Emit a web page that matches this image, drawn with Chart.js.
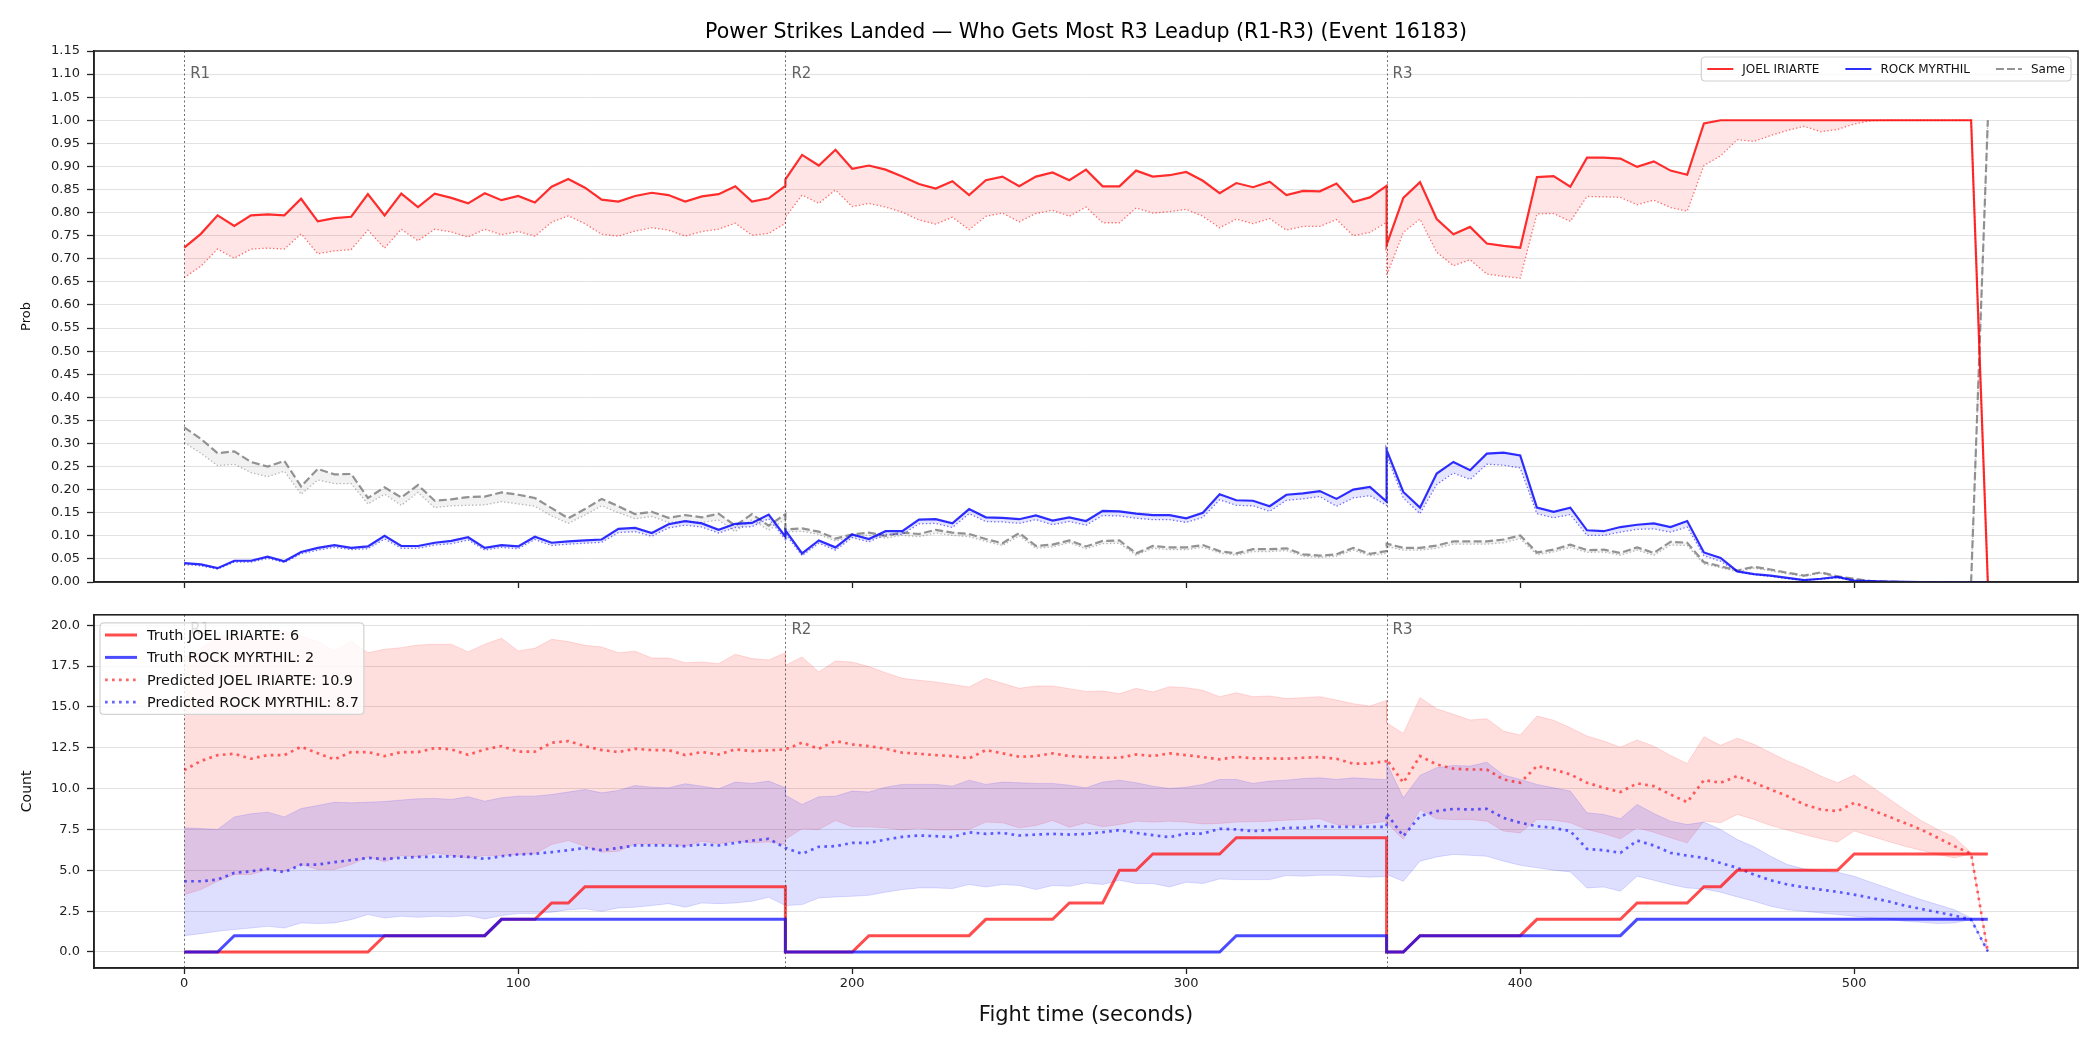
<!DOCTYPE html>
<html lang="en">
<head>
    <meta charset="UTF-8">
    <title>Power Strikes Landed - Event 16183</title>
    <script src="https://cdn.jsdelivr.net/npm/chart.js"></script>
    <style>
        html, body { margin: 0; padding: 0; background: #fff; }
        body { width: 2100px; height: 1050px; position: relative; overflow: hidden; }
        .panel { position: absolute; left: 0; width: 2100px; }
        #topPanel { top: 0; height: 600px; }
        #bottomPanel { top: 600px; height: 450px; }
    </style>
</head>
<body>
    <div class="panel" id="topPanel"><canvas id="probChart" width="2100" height="600" style="width:2100px;height:600px"></canvas></div>
    <div class="panel" id="bottomPanel"><canvas id="countChart" width="2100" height="450" style="width:2100px;height:450px"></canvas></div>

    <script>
        // ---- data ----
        const fighterA = 'JOEL IRIARTE';
        const fighterB = 'ROCK MYRTHIL';
        const chartTitle = 'Power Strikes Landed \u2014 Who Gets Most R3 Leadup (R1-R3) (Event 16183)';

        // sample times (s); each round boundary appears twice (end of one round, start of next)
        const times = [
            0, 5, 10, 15, 20, 25, 30, 35, 40, 45, 50, 55, 60, 65, 70, 75, 80, 85, 90, 95,
            100, 105, 110, 115, 120, 125, 130, 135, 140, 145, 150, 155, 160, 165, 170, 175, 180,
            180, 185, 190, 195, 200, 205, 210, 215, 220, 225, 230, 235, 240, 245, 250, 255, 260, 265, 270, 275,
            280, 285, 290, 295, 300, 305, 310, 315, 320, 325, 330, 335, 340, 345, 350, 355, 360,
            360, 365, 370, 375, 380, 385, 390, 395, 400, 405, 410, 415, 420, 425, 430, 435, 440, 445, 450, 455,
            460, 465, 470, 475, 480, 485, 490, 495, 500, 505, 510, 515, 520, 525, 530, 535, 540
        ];
        const xTicks = [0, 100, 200, 300, 400, 500];
        const probTicks = [0, 0.05, 0.1, 0.15, 0.2, 0.25, 0.3, 0.35, 0.4, 0.45, 0.5, 0.55, 0.6, 0.65,
            0.7, 0.75, 0.8, 0.85, 0.9, 0.95, 1, 1.05, 1.1, 1.15];
        const countTicks = [0, 2.5, 5, 7.5, 10, 12.5, 15, 17.5, 20];
        const roundStarts = [0, 180, 360];
        const roundNames = ['R1', 'R2', 'R3'];

        // top panel: probability (solid = upper, dotted = lower)
        const joelProbHi = [
            0.724, 0.754, 0.794, 0.771, 0.794, 0.796, 0.794, 0.830, 0.781, 0.788,
            0.791, 0.840, 0.794, 0.841, 0.812, 0.841, 0.832, 0.820, 0.842, 0.827,
            0.836, 0.822, 0.856, 0.873, 0.854, 0.828, 0.824, 0.836, 0.843, 0.838,
            0.824, 0.835, 0.840, 0.857, 0.824, 0.831, 0.858,
            0.872, 0.925, 0.902, 0.936, 0.895, 0.902, 0.893, 0.878, 0.862, 0.852,
            0.868, 0.838, 0.870, 0.878, 0.857, 0.878, 0.887, 0.870, 0.893, 0.857,
            0.857, 0.891, 0.878, 0.881, 0.888, 0.869, 0.842, 0.864, 0.855, 0.867,
            0.838, 0.847, 0.846, 0.863, 0.823, 0.833, 0.858,
            0.730, 0.832, 0.866, 0.786, 0.753, 0.769, 0.733, 0.728, 0.724, 0.877,
            0.879, 0.856, 0.919, 0.919, 0.917, 0.899, 0.911, 0.891, 0.882, 0.993,
            1, 1, 1, 1, 1, 1, 1, 1, 1, 1,
            1, 1, 1, 1, 1, 1, 0
        ];
        const joelProbLo = [
            0.659, 0.684, 0.721, 0.701, 0.721, 0.723, 0.721, 0.754, 0.711, 0.717,
            0.720, 0.762, 0.723, 0.764, 0.739, 0.764, 0.758, 0.747, 0.764, 0.752,
            0.759, 0.749, 0.779, 0.793, 0.776, 0.753, 0.749, 0.760, 0.767, 0.762,
            0.749, 0.759, 0.764, 0.777, 0.751, 0.755, 0.777,
            0.790, 0.838, 0.820, 0.849, 0.813, 0.820, 0.812, 0.801, 0.784, 0.775,
            0.790, 0.763, 0.792, 0.799, 0.780, 0.798, 0.805, 0.792, 0.812, 0.778,
            0.778, 0.810, 0.799, 0.802, 0.807, 0.792, 0.767, 0.786, 0.776, 0.787,
            0.762, 0.770, 0.770, 0.785, 0.750, 0.757, 0.779,
            0.663, 0.757, 0.786, 0.714, 0.685, 0.698, 0.667, 0.662, 0.658, 0.797,
            0.798, 0.781, 0.835, 0.834, 0.833, 0.817, 0.827, 0.811, 0.803, 0.902,
            0.923, 0.958, 0.954, 0.967, 0.978, 0.987, 0.975, 0.980, 0.992, 0.999,
            1, 1, 1, 1, 1, 1, 0
        ];
        const rockProbHi = [
            0.041, 0.038, 0.030, 0.046, 0.046, 0.055, 0.045, 0.065, 0.074, 0.080,
            0.074, 0.077, 0.100, 0.078, 0.078, 0.085, 0.089, 0.097, 0.074, 0.080,
            0.077, 0.098, 0.085, 0.088, 0.090, 0.092, 0.115, 0.117, 0.106, 0.125,
            0.132, 0.127, 0.113, 0.126, 0.128, 0.146, 0.098,
            0.112, 0.062, 0.090, 0.075, 0.103, 0.093, 0.110, 0.110, 0.135, 0.136,
            0.127, 0.158, 0.140, 0.139, 0.136, 0.144, 0.133, 0.140, 0.132, 0.154,
            0.153, 0.148, 0.145, 0.145, 0.138, 0.150, 0.190, 0.177, 0.176, 0.164,
            0.189, 0.192, 0.197, 0.180, 0.200, 0.206, 0.174,
            0.286, 0.195, 0.161, 0.235, 0.260, 0.242, 0.278, 0.280, 0.274, 0.161,
            0.152, 0.161, 0.112, 0.110, 0.119, 0.124, 0.127, 0.119, 0.132, 0.064,
            0.052, 0.023, 0.017, 0.014, 0.009, 0.004, 0.007, 0.011, 0.003, 0.002,
            0.001, 0.0005, 0, 0, 0, 0, 0
        ];
        const rockProbLo = [
            0.038, 0.035, 0.028, 0.043, 0.043, 0.051, 0.042, 0.061, 0.069, 0.075,
            0.070, 0.072, 0.093, 0.073, 0.073, 0.080, 0.083, 0.091, 0.069, 0.075,
            0.072, 0.092, 0.079, 0.082, 0.084, 0.086, 0.107, 0.109, 0.099, 0.117,
            0.123, 0.119, 0.106, 0.118, 0.120, 0.137, 0.092,
            0.104, 0.057, 0.084, 0.069, 0.096, 0.087, 0.103, 0.103, 0.126, 0.127,
            0.118, 0.148, 0.131, 0.130, 0.127, 0.135, 0.124, 0.131, 0.123, 0.144,
            0.143, 0.138, 0.135, 0.135, 0.129, 0.140, 0.178, 0.166, 0.165, 0.153,
            0.177, 0.180, 0.185, 0.164, 0.182, 0.187, 0.166,
            0.273, 0.182, 0.148, 0.211, 0.236, 0.222, 0.255, 0.253, 0.247, 0.148,
            0.139, 0.146, 0.101, 0.101, 0.108, 0.114, 0.115, 0.108, 0.119, 0.057,
            0.045, 0.022, 0.016, 0.012, 0.007, 0.004, 0.006, 0.009, 0.002, 0.001,
            0.0005, 0, 0, 0, 0, 0, 0
        ];
        const sameProbHi = [
            0.335, 0.310, 0.279, 0.283, 0.260, 0.250, 0.262, 0.207, 0.245, 0.233,
            0.234, 0.182, 0.205, 0.183, 0.210, 0.176, 0.179, 0.184, 0.185, 0.194,
            0.189, 0.182, 0.160, 0.138, 0.158, 0.180, 0.164, 0.147, 0.152, 0.139,
            0.145, 0.140, 0.148, 0.122, 0.147, 0.122, 0.147,
            0.114, 0.116, 0.109, 0.094, 0.103, 0.107, 0.100, 0.107, 0.104, 0.113,
            0.107, 0.104, 0.093, 0.084, 0.106, 0.078, 0.081, 0.090, 0.077, 0.089,
            0.090, 0.062, 0.078, 0.075, 0.075, 0.080, 0.067, 0.062, 0.071, 0.071,
            0.073, 0.060, 0.057, 0.060, 0.074, 0.061, 0.067,
            0.083, 0.074, 0.074, 0.079, 0.088, 0.088, 0.088, 0.092, 0.101, 0.064,
            0.070, 0.081, 0.069, 0.070, 0.063, 0.075, 0.063, 0.087, 0.085, 0.043,
            0.034, 0.025, 0.033, 0.027, 0.020, 0.014, 0.021, 0.012, 0.007, 0.002,
            0.001, 0, 0, 0, 0, 0, 1
        ];
        const sameProbLo = [
            0.302, 0.279, 0.252, 0.255, 0.237, 0.228, 0.240, 0.190, 0.221, 0.213,
            0.213, 0.169, 0.190, 0.166, 0.194, 0.161, 0.165, 0.166, 0.167, 0.174,
            0.169, 0.164, 0.143, 0.127, 0.145, 0.165, 0.150, 0.137, 0.142, 0.129,
            0.132, 0.129, 0.134, 0.109, 0.135, 0.112, 0.136,
            0.108, 0.110, 0.103, 0.089, 0.097, 0.101, 0.095, 0.101, 0.098, 0.106,
            0.101, 0.098, 0.088, 0.079, 0.100, 0.073, 0.076, 0.085, 0.072, 0.083,
            0.084, 0.058, 0.073, 0.070, 0.070, 0.075, 0.063, 0.058, 0.066, 0.066,
            0.068, 0.056, 0.053, 0.056, 0.069, 0.057, 0.062,
            0.077, 0.069, 0.069, 0.073, 0.082, 0.082, 0.082, 0.085, 0.094, 0.059,
            0.065, 0.075, 0.064, 0.065, 0.058, 0.069, 0.058, 0.080, 0.079, 0.039,
            0.031, 0.022, 0.030, 0.024, 0.018, 0.012, 0.019, 0.010, 0.006, 0.002,
            0.001, 0, 0, 0, 0, 0, 1
        ];

        // bottom panel: cumulative counts
        const joelTruth = [
            0, 0, 0, 0, 0, 0, 0, 0, 0, 0,
            0, 0, 1, 1, 1, 1, 1, 1, 1, 2,
            2, 2, 3, 3, 4, 4, 4, 4, 4, 4,
            4, 4, 4, 4, 4, 4, 4,
            0, 0, 0, 0, 0, 1, 1, 1, 1, 1,
            1, 1, 2, 2, 2, 2, 2, 3, 3, 3,
            5, 5, 6, 6, 6, 6, 6, 7, 7, 7,
            7, 7, 7, 7, 7, 7, 7,
            0, 0, 1, 1, 1, 1, 1, 1, 1, 2,
            2, 2, 2, 2, 2, 3, 3, 3, 3, 4,
            4, 5, 5, 5, 5, 5, 5, 5, 6, 6,
            6, 6, 6, 6, 6, 6, 6
        ];
        const rockTruth = [
            0, 0, 0, 1, 1, 1, 1, 1, 1, 1,
            1, 1, 1, 1, 1, 1, 1, 1, 1, 2,
            2, 2, 2, 2, 2, 2, 2, 2, 2, 2,
            2, 2, 2, 2, 2, 2, 2,
            0, 0, 0, 0, 0, 0, 0, 0, 0, 0,
            0, 0, 0, 0, 0, 0, 0, 0, 0, 0,
            0, 0, 0, 0, 0, 0, 0, 1, 1, 1,
            1, 1, 1, 1, 1, 1, 1,
            0, 0, 1, 1, 1, 1, 1, 1, 1, 1,
            1, 1, 1, 1, 1, 2, 2, 2, 2, 2,
            2, 2, 2, 2, 2, 2, 2, 2, 2, 2,
            2, 2, 2, 2, 2, 2, 2
        ];
        const joelPred = [
            11.13, 11.69, 12.05, 12.13, 11.83, 12.05, 12.05, 12.56, 12.16, 11.79,
            12.24, 12.24, 11.99, 12.24, 12.24, 12.48, 12.40, 12.07, 12.40, 12.60,
            12.26, 12.26, 12.81, 12.91, 12.60, 12.36, 12.24, 12.44, 12.36, 12.36,
            12.05, 12.24, 12.09, 12.40, 12.30, 12.34, 12.40,
            12.40, 12.81, 12.44, 12.91, 12.71, 12.60, 12.44, 12.20, 12.13, 12.05,
            11.99, 11.85, 12.36, 12.16, 11.95, 11.99, 12.16, 11.99, 11.93, 11.89,
            11.89, 12.09, 11.99, 12.16, 12.05, 11.93, 11.79, 11.95, 11.85, 11.85,
            11.83, 11.89, 11.93, 11.83, 11.52, 11.54, 11.69,
            11.79, 10.36, 11.99, 11.48, 11.22, 11.17, 11.17, 10.56, 10.36, 11.38,
            11.17, 10.87, 10.36, 10.05, 9.79, 10.32, 10.15, 9.64, 9.17, 10.52,
            10.36, 10.77, 10.36, 9.95, 9.54, 9.03, 8.72, 8.62, 9.13, 8.72,
            8.31, 7.91, 7.50, 6.99, 6.48, 6.01, 0.04
        ];
        const joelBandHi = [
            18.00, 18.60, 19.20, 19.50, 19.10, 19.40, 19.66, 19.35, 19.00, 18.43,
            19.04, 18.32, 18.53, 18.63, 18.79, 18.84, 18.84, 18.37, 18.84, 19.20,
            18.43, 18.59, 19.14, 19.00, 18.77, 18.67, 18.32, 18.41, 18.00, 18.00,
            17.71, 17.75, 17.65, 18.22, 17.96, 17.88, 18.32,
            17.55, 18.06, 17.14, 17.81, 17.75, 17.47, 17.10, 16.75, 16.63, 16.53,
            16.38, 16.22, 16.75, 16.45, 16.14, 16.28, 16.28, 16.12, 15.95, 15.98,
            15.81, 16.14, 15.91, 16.24, 16.18, 16.02, 15.63, 15.87, 15.63, 15.67,
            15.51, 15.57, 15.63, 15.42, 15.20, 15.06, 15.40,
            14.03, 13.38, 15.57, 14.89, 14.55, 14.20, 14.28, 13.52, 13.28, 14.44,
            14.18, 13.73, 13.22, 12.91, 12.54, 12.97, 12.60, 12.03, 11.54, 13.18,
            12.65, 13.09, 12.71, 12.20, 11.69, 11.28, 10.77, 10.36, 10.83, 10.15,
            9.44, 8.72, 8.05, 7.50, 7.03, 6.07, 0
        ];
        const joelBandLo = [
            3.51, 3.82, 4.33, 4.74, 4.74, 5.05, 4.94, 5.35, 5.05, 5.05,
            5.35, 5.82, 5.52, 5.90, 5.82, 6.07, 5.90, 5.76, 5.90, 5.90,
            5.97, 6.01, 6.58, 6.82, 6.48, 6.11, 6.17, 6.62, 6.62, 6.62,
            6.48, 6.78, 6.62, 6.78, 6.68, 6.74, 6.58,
            6.90, 7.54, 7.50, 8.05, 7.66, 7.66, 7.60, 7.46, 7.58, 7.46,
            7.46, 7.50, 7.95, 7.91, 7.60, 7.74, 8.05, 7.64, 7.91, 7.66,
            7.80, 8.01, 7.95, 8.01, 7.95, 7.84, 7.87, 7.95, 7.97, 8.01,
            8.07, 8.11, 8.15, 7.80, 7.74, 7.87, 8.01,
            7.90, 6.90, 8.72, 8.15, 8.11, 8.11, 8.01, 7.40, 7.29, 8.11,
            8.07, 7.91, 7.50, 7.25, 6.93, 7.60, 7.33, 6.99, 6.68, 8.01,
            7.91, 8.42, 8.11, 7.74, 7.46, 7.19, 6.93, 6.72, 7.40, 7.09,
            6.78, 6.48, 6.23, 5.97, 5.76, 6.01, 0
        ];
        const rockPred = [
            4.33, 4.33, 4.43, 4.84, 4.94, 5.09, 4.88, 5.35, 5.35, 5.50,
            5.62, 5.76, 5.70, 5.76, 5.82, 5.82, 5.86, 5.82, 5.70, 5.86,
            5.97, 6.01, 6.11, 6.23, 6.37, 6.23, 6.37, 6.52, 6.52, 6.52,
            6.48, 6.58, 6.52, 6.68, 6.82, 6.93, 6.37,
            6.37, 6.01, 6.44, 6.48, 6.68, 6.68, 6.88, 7.05, 7.13, 7.09,
            7.03, 7.33, 7.23, 7.29, 7.13, 7.19, 7.23, 7.19, 7.23, 7.33,
            7.46, 7.29, 7.15, 7.03, 7.25, 7.25, 7.54, 7.50, 7.40, 7.46,
            7.60, 7.60, 7.70, 7.66, 7.66, 7.66, 7.66,
            8.48, 7.09, 8.31, 8.62, 8.76, 8.72, 8.76, 8.21, 7.91, 7.70,
            7.60, 7.40, 6.31, 6.23, 6.07, 6.82, 6.52, 6.07, 5.90, 5.76,
            5.45, 5.15, 4.74, 4.39, 4.13, 3.96, 3.82, 3.68, 3.51, 3.31,
            3.11, 2.84, 2.64, 2.43, 2.23, 1.98, 0.04
        ];
        const rockBandHi = [
            7.60, 7.56, 7.50, 8.27, 8.46, 8.56, 8.27, 8.78, 8.97, 9.17,
            9.13, 9.17, 9.21, 9.30, 9.38, 9.40, 9.34, 9.50, 9.23, 9.44,
            9.54, 9.54, 9.64, 9.79, 9.95, 9.74, 9.89, 10.19, 10.09, 10.05,
            10.30, 10.15, 9.99, 10.40, 10.32, 10.46, 10.05,
            9.60, 9.03, 9.50, 9.54, 9.85, 9.79, 10.09, 10.26, 10.26, 10.26,
            10.15, 10.52, 10.26, 10.40, 10.36, 10.32, 10.32, 10.21, 10.05, 10.40,
            10.52, 10.36, 10.15, 10.01, 10.09, 10.26, 10.56, 10.56, 10.32, 10.46,
            10.52, 10.62, 10.66, 10.56, 10.66, 10.60, 10.55,
            11.58, 9.44, 10.81, 11.28, 11.42, 11.38, 11.62, 10.83, 10.56, 10.26,
            10.05, 9.85, 8.52, 8.42, 8.15, 9.03, 8.48, 8.01, 7.80, 7.95,
            7.50, 6.88, 6.44, 5.86, 5.35, 5.09, 4.94, 4.88, 4.64, 4.27,
            3.92, 3.55, 3.21, 2.90, 2.59, 2.08, 0
        ];
        const rockBandLo = [
            1.00, 1.12, 1.27, 1.37, 1.47, 1.57, 1.47, 1.78, 1.74, 1.78,
            1.98, 2.29, 2.08, 2.19, 2.12, 2.19, 2.15, 2.23, 2.02, 2.23,
            2.35, 2.35, 2.43, 2.59, 2.64, 2.49, 2.70, 2.74, 2.84, 2.96,
            2.74, 3.00, 2.96, 3.00, 3.11, 3.35, 2.84,
            2.84, 2.90, 3.31, 3.37, 3.41, 3.47, 3.66, 3.82, 3.92, 3.92,
            3.88, 4.13, 3.98, 4.13, 4.07, 3.82, 4.07, 4.02, 4.23, 4.13,
            4.39, 4.19, 4.19, 3.98, 4.27, 4.19, 4.47, 4.43, 4.43, 4.43,
            4.68, 4.64, 4.70, 4.70, 4.64, 4.58, 4.62,
            4.74, 4.33, 5.56, 5.82, 5.97, 5.92, 5.86, 5.56, 5.31, 5.15,
            5.01, 4.90, 3.92, 3.98, 3.72, 4.64, 4.39, 4.13, 3.92, 3.86,
            3.66, 3.37, 3.11, 2.80, 2.59, 2.49, 2.39, 2.29, 2.19, 2.08,
            2.02, 1.88, 1.82, 1.74, 1.78, 1.98, 0
        ];
        const joelFinal = 6, rockFinal = 2, joelPredFinal = 10.9, rockPredFinal = 8.7;

        // ---- styling ----
        const FONT = '"DejaVu Sans", sans-serif';
        Chart.defaults.font.family = FONT;
        Chart.defaults.color = '#222';

        const RED = 'rgba(255,0,0,0.82)', BLUE = 'rgba(0,0,255,0.82)', GRAY = 'rgba(128,128,128,0.85)';
        const RED_T = 'rgba(255,0,0,0.7)', BLUE_T = 'rgba(0,0,255,0.7)';
        const RED_P = 'rgba(255,0,0,0.6)', BLUE_P = 'rgba(0,0,255,0.6)';
        const X_MIN = -27, X_MAX = 567;

        const pts = vals => times.map((t, i) => ({ x: t, y: vals[i] }));

        function series(vals, color, width, dash, fill, bg) {
            return {
                data: pts(vals),
                borderColor: color,
                borderWidth: width,
                borderDash: dash || [],
                fill: fill || false,
                backgroundColor: bg || 'transparent',
                pointRadius: 0,
                tension: 0
            };
        }

        function roundBox(ctx, x, y, w, h, r) {
            ctx.beginPath();
            ctx.moveTo(x + r, y);
            ctx.lineTo(x + w - r, y);
            ctx.quadraticCurveTo(x + w, y, x + w, y + r);
            ctx.lineTo(x + w, y + h - r);
            ctx.quadraticCurveTo(x + w, y + h, x + w - r, y + h);
            ctx.lineTo(x + r, y + h);
            ctx.quadraticCurveTo(x, y + h, x, y + h - r);
            ctx.lineTo(x, y + r);
            ctx.quadraticCurveTo(x, y, x + r, y);
            ctx.closePath();
        }

        function drawLegend(ctx, a, lg) {
            ctx.save();
            ctx.font = lg.size + 'px ' + FONT;
            const tw = lg.items.map(it => ctx.measureText(it.label).width);
            let w, h;
            if (lg.row) {
                w = 2 * lg.padX + tw.reduce((s, v) => s + lg.handle + lg.gap + v, 0) + lg.colGap * (tw.length - 1);
                h = 2 * lg.padY + lg.rowH;
            } else {
                w = 2 * lg.padX + lg.handle + lg.gap + Math.max(...tw);
                h = 2 * lg.padY + lg.rowH * tw.length;
            }
            const x0 = lg.right ? a.right - lg.dx - w : a.left + lg.dx;
            const y0 = a.top + lg.dy;
            roundBox(ctx, x0, y0, w, h, 4);
            ctx.fillStyle = 'rgba(255,255,255,0.8)';
            ctx.fill();
            ctx.strokeStyle = '#d2d2d2';
            ctx.lineWidth = 1.2;
            ctx.stroke();
            let cx = x0 + lg.padX;
            lg.items.forEach((it, i) => {
                const cy = lg.row ? y0 + h / 2 : y0 + lg.padY + lg.rowH * (i + 0.5);
                const hx = lg.row ? cx : x0 + lg.padX;
                ctx.beginPath();
                ctx.setLineDash(it.dash || []);
                ctx.strokeStyle = it.color;
                ctx.lineWidth = it.width;
                ctx.moveTo(hx, cy);
                ctx.lineTo(hx + lg.handle, cy);
                ctx.stroke();
                ctx.setLineDash([]);
                ctx.fillStyle = '#111';
                ctx.textBaseline = 'middle';
                ctx.textAlign = 'left';
                ctx.fillText(it.label, hx + lg.handle + lg.gap, cy + 1);
                if (lg.row) cx += lg.handle + lg.gap + tw[i] + lg.colGap;
            });
            ctx.restore();
        }

        // round markers, frame, title and legend
        const decor = {
            id: 'decor',
            afterDatasetsDraw(chart, args, o) {
                const { ctx, chartArea: a } = chart;
                const xs = chart.scales.x, ys = chart.scales.y;
                ctx.save();
                ctx.strokeStyle = 'rgba(60,60,60,0.75)';
                ctx.lineWidth = 1;
                ctx.setLineDash([2, 2.5]);
                roundStarts.forEach(t => {
                    const px = Math.round(xs.getPixelForValue(t)) + 0.5;
                    ctx.beginPath();
                    ctx.moveTo(px, a.top);
                    ctx.lineTo(px, a.bottom);
                    ctx.stroke();
                });
                ctx.setLineDash([]);
                ctx.fillStyle = 'rgba(70,70,70,0.85)';
                ctx.font = '15px ' + FONT;
                ctx.textBaseline = 'middle';
                ctx.textAlign = 'left';
                const ly = ys.getPixelForValue(o.roundLabelY);
                roundStarts.forEach((t, i) => {
                    ctx.fillText(roundNames[i], xs.getPixelForValue(t) + 6, ly);
                });
                ctx.strokeStyle = '#222';
                ctx.lineWidth = 1.6;
                ctx.strokeRect(a.left, a.top, a.right - a.left, a.bottom - a.top);
                ctx.restore();
            },
            afterDraw(chart, args, o) {
                const { ctx, chartArea: a } = chart;
                if (o.title) {
                    ctx.save();
                    ctx.font = '20.5px ' + FONT;
                    ctx.fillStyle = '#000';
                    ctx.textAlign = 'center';
                    ctx.textBaseline = 'middle';
                    ctx.fillText(o.title, (a.left + a.right) / 2, 33);
                    ctx.restore();
                }
                if (o.legend) drawLegend(ctx, a, o.legend);
            }
        };

        function xScale(showLabels) {
            return {
                type: 'linear', min: X_MIN, max: X_MAX,
                afterBuildTicks: s => { s.ticks = xTicks.map(v => ({ value: v })); },
                afterFit: s => { s.height = showLabels ? 82 : 18; },
                ticks: { display: showLabels, font: { size: 13 }, color: '#222', padding: 2, maxRotation: 0 },
                grid: { display: true, drawOnChartArea: false, drawTicks: true, tickLength: 6, tickColor: '#222', tickWidth: 1.3 },
                border: { display: true, color: '#222', width: 1.6 },
                title: showLabels
                    ? { display: true, text: 'Fight time (seconds)', font: { size: 21 }, color: '#111', padding: { top: 0, bottom: 22 } }
                    : { display: false }
            };
        }

        function yScale(min, max, tickVals, digits, label, labelSize) {
            return {
                min: min, max: max,
                afterBuildTicks: s => { s.ticks = tickVals.map(v => ({ value: v })); },
                afterFit: s => { s.width = 94; },
                ticks: { font: { size: 13 }, color: '#222', padding: 7, callback: v => Number(v).toFixed(digits) },
                grid: { color: '#e2e2e2', lineWidth: 1, tickColor: '#222', tickLength: 7, tickWidth: 1.3 },
                border: { display: true, color: '#222', width: 1.6 },
                title: { display: true, text: label, font: { size: labelSize }, color: '#111', padding: { top: 19, bottom: 0 } }
            };
        }

        const common = {
            responsive: false,
            animation: false,
            devicePixelRatio: 1,
            events: []
        };

        // ---- top: probability ----
        new Chart(document.getElementById('probChart'), {
            type: 'line',
            data: {
                datasets: [
                    series(rockProbHi, BLUE, 2.2, [], '+1', 'rgba(0,0,255,0.1)'),
                    series(rockProbLo, 'rgba(0,0,255,0.55)', 1.3, [1.4, 2.2]),
                    series(joelProbHi, RED, 2.2, [], '+1', 'rgba(255,0,0,0.1)'),
                    series(joelProbLo, 'rgba(255,0,0,0.55)', 1.3, [1.4, 2.2]),
                    series(sameProbHi, GRAY, 2.2, [8, 3.4], '+1', 'rgba(128,128,128,0.1)'),
                    series(sameProbLo, 'rgba(128,128,128,0.55)', 1.3, [1.4, 2.2])
                ]
            },
            options: {
                ...common,
                layout: { padding: { top: 51, right: 22, left: 0, bottom: 0 } },
                scales: {
                    x: xScale(false),
                    y: yScale(0, 1.15, probTicks, 2, 'Prob', 13)
                },
                plugins: {
                    legend: { display: false },
                    tooltip: { enabled: false },
                    decor: {
                        title: chartTitle,
                        roundLabelY: 1.1,
                        legend: {
                            row: true, right: true, dx: 7, dy: 6, size: 12,
                            padX: 6, padY: 6, rowH: 12, handle: 26, gap: 9, colGap: 26,
                            items: [
                                { label: fighterA, color: RED, width: 2 },
                                { label: fighterB, color: BLUE, width: 2 },
                                { label: 'Same', color: GRAY, width: 2, dash: [8, 3] }
                            ]
                        }
                    }
                }
            },
            plugins: [decor]
        });

        // ---- bottom: counts ----
        new Chart(document.getElementById('countChart'), {
            type: 'line',
            data: {
                datasets: [
                    series(rockTruth, BLUE_T, 3),
                    series(joelTruth, RED_T, 3),
                    series(rockPred, BLUE_P, 2.7, [2.7, 4.3]),
                    series(joelPred, RED_P, 2.7, [2.7, 4.3]),
                    series(rockBandHi, 'rgba(0,0,255,0.13)', 1, [], '+1', 'rgba(0,0,255,0.13)'),
                    series(rockBandLo, 'rgba(0,0,255,0.13)', 1),
                    series(joelBandHi, 'rgba(255,0,0,0.13)', 1, [], '+1', 'rgba(255,0,0,0.13)'),
                    series(joelBandLo, 'rgba(255,0,0,0.13)', 1)
                ]
            },
            options: {
                ...common,
                layout: { padding: { top: 14, right: 22, left: 0, bottom: 0 } },
                scales: {
                    x: xScale(true),
                    y: yScale(-0.98, 20.64, countTicks, 1, 'Count', 14)
                },
                plugins: {
                    legend: { display: false },
                    tooltip: { enabled: false },
                    decor: {
                        roundLabelY: 19.7,
                        legend: {
                            row: false, right: false, dx: 6, dy: 8, size: 14.4,
                            padX: 5, padY: 1, rowH: 22.4, handle: 32, gap: 10, colGap: 0,
                            items: [
                                { label: 'Truth ' + fighterA + ': ' + joelFinal, color: RED_T, width: 3 },
                                { label: 'Truth ' + fighterB + ': ' + rockFinal, color: BLUE_T, width: 3 },
                                { label: 'Predicted ' + fighterA + ': ' + joelPredFinal, color: RED_P, width: 2.7, dash: [2.7, 4.3] },
                                { label: 'Predicted ' + fighterB + ': ' + rockPredFinal, color: BLUE_P, width: 2.7, dash: [2.7, 4.3] }
                            ]
                        }
                    }
                }
            },
            plugins: [decor]
        });
    </script>
</body>
</html>
